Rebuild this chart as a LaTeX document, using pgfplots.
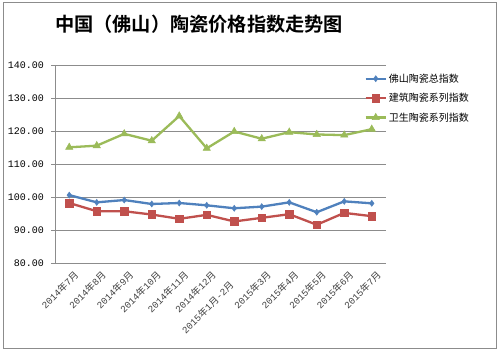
\documentclass[border=0pt]{standalone}
\usepackage{pgfplots}
\pgfplotsset{compat=1.18}
\usepackage{fontspec}
\setmainfont{Noto Sans CJK SC}
\newfontfamily\cjk{Noto Sans CJK SC}
\newfontfamily\cjkbold{Noto Sans CJK SC Bold}
\newfontfamily\monofont{Liberation Mono}
\newcommand{\ym}[2]{{\monofont #1}年{\monofont #2}月}
\definecolor{sblue}{HTML}{4F81BD}
\definecolor{sred}{HTML}{C0504D}
\definecolor{sgreen}{HTML}{9BBB59}
\definecolor{gridgray}{HTML}{8C8C8C}
\begin{document}
\begin{tikzpicture}
\useasboundingbox (0pt,0pt) rectangle (500pt,351pt);
\fill[white] (0pt,0pt) rectangle (500pt,351pt);
\draw[gridgray, line width=0.8pt] (3pt,3pt) rectangle (496.5pt,348.5pt);
\node[anchor=center, font=\cjkbold\fontsize{19.2}{21}\selectfont] at (199pt,327pt) {中国（佛山）陶瓷价格指数走势图};
\begin{axis}[
  at={(55.5pt,87.7pt)}, anchor=south west,
  scale only axis, width=330pt, height=197.7pt,
  xmin=0, xmax=12, ymin=80, ymax=140,
  axis x line*=bottom, axis y line*=left,
  axis line style={gridgray, line width=0.8pt, -},
  xtick={0.5,1.5,...,11.5},
  xticklabels={\ym{2014}{7},\ym{2014}{8},\ym{2014}{9},\ym{2014}{10},\ym{2014}{11},\ym{2014}{12},{\ym{2015}{1}{\monofont -}{\monofont 2}月\kern14pt},\ym{2015}{3},\ym{2015}{4},\ym{2015}{5},\ym{2015}{6},\ym{2015}{7}},
  major x tick style={draw=none},
  extra x ticks={0,1,...,12},
  extra x tick labels={},
  extra x tick style={tick style={gridgray, line width=0.6pt}, major tick length=4pt, tick align=outside, grid=none},
  xticklabel style={rotate=45, anchor=north east, inner sep=0pt, yshift=-5pt, xshift=1pt, font=\cjk\fontsize{9.5}{10}\selectfont, text=black!75},
  ytick={80,90,...,140},
  ymajorgrids, major grid style={gridgray, line width=0.8pt},
  y tick style={gridgray, line width=0.6pt}, major tick length=4pt, tick align=outside,
  yticklabel style={font=\monofont\fontsize{10}{11}\selectfont, text=black, xshift=-4pt},
  /pgf/number format/assume math mode=true,
  yticklabel={\pgfmathprintnumber[fixed, fixed zerofill, precision=2]{\tick}},
  legend style={at={(0.936,0.97)}, anchor=north west, draw=none, fill=none,
    font=\cjk\fontsize{10}{11}\selectfont, row sep=5.5pt, inner sep=0pt,
    /tikz/every even column/.append style={column sep=2pt}},
  legend cell align=left,
  legend image code/.code={
    \draw[#1, mark repeat=2, mark phase=2] plot coordinates {(0pt,0pt) (10pt,0pt) (20pt,0pt)};
  },
  clip=false,
]
\addplot[sblue, line width=2.3pt, mark=diamond*, mark size=3pt, mark options={solid, line width=0.5pt}] coordinates {
(0.5,100.7) (1.5,98.5) (2.5,99.2) (3.5,98.0) (4.5,98.3) (5.5,97.6) (6.5,96.7) (7.5,97.2) (8.5,98.5) (9.5,95.5) (10.5,98.8) (11.5,98.2)};
\addlegendentry{佛山陶瓷总指数}
\addplot[sred, line width=2.3pt, mark=square*, mark size=3.8pt, mark options={solid, line width=0.5pt}] coordinates {
(0.5,98.3) (1.5,95.8) (2.5,95.8) (3.5,94.8) (4.5,93.5) (5.5,94.7) (6.5,92.7) (7.5,93.8) (8.5,94.9) (9.5,91.7) (10.5,95.3) (11.5,94.3)};
\addlegendentry{建筑陶瓷系列指数}
\addplot[sgreen, line width=2.3pt, mark=triangle*, mark size=4.2pt, mark options={solid, line width=0.5pt}] coordinates {
(0.5,115.2) (1.5,115.7) (2.5,119.3) (3.5,117.2) (4.5,124.7) (5.5,114.9) (6.5,120.0) (7.5,117.8) (8.5,119.8) (9.5,119.1) (10.5,118.9) (11.5,120.7)};
\addlegendentry{卫生陶瓷系列指数}
\end{axis}
\end{tikzpicture}
\end{document}
